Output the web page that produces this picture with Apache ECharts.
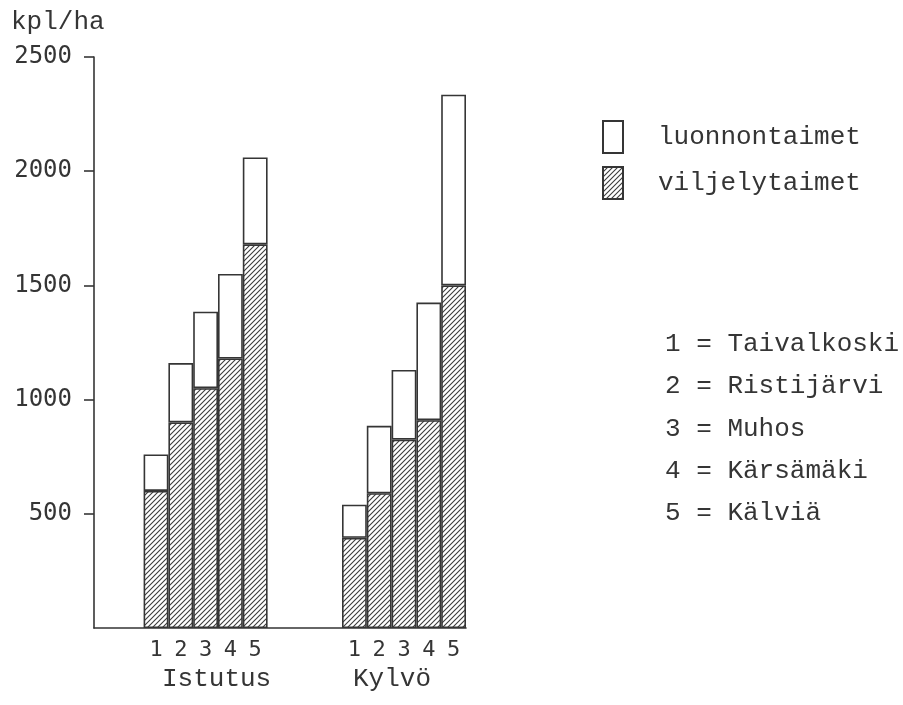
<!DOCTYPE html>
<html>
<head>
<meta charset="utf-8">
<script src="https://cdn.jsdelivr.net/npm/echarts@6/dist/echarts.min.js"></script>
<style>html,body{margin:0;padding:0;background:#fff;}#c{width:903px;height:705px;}</style>
</head>
<body>
<div id="c"></div>
<script>
// Data
const groups = ['Istutus', 'Kylvö'];
const siteNumbers = ['1', '2', '3', '4', '5'];
const istutusTotal   = [760, 1160, 1385, 1550, 2060];
const istutusViljely = [600, 900, 1050, 1180, 1680];
const kylvoTotal     = [540, 885, 1130, 1425, 2335];
const kylvoViljely   = [395, 590, 825, 910, 1500];
const yTicks = [500, 1000, 1500, 2000, 2500];
const seriesNames = ['luonnontaimet', 'viljelytaimet'];
const siteNames = ['1 = Taivalkoski', '2 = Ristijärvi', '3 = Muhos', '4 = Kärsämäki', '5 = Kälviä'];

// Build 15-slot category layout: 2 empty, 5 bars, 3 empty, 5 bars
const pad = (n) => Array(n).fill(null);
const cats = ['', ''].concat(siteNumbers, ['', '', ''], siteNumbers);
const groupCats = cats.map(() => '');
groupCats[4] = groups[0];
groupCats[12] = groups[1];
const viljely = pad(2).concat(istutusViljely, pad(3), kylvoViljely);
const luonnon = pad(2).concat(
  istutusTotal.map((t, i) => t - istutusViljely[i]), pad(3),
  kylvoTotal.map((t, i) => t - kylvoViljely[i]));

// hatch pattern
const cv = document.createElement('canvas');
cv.width = 5; cv.height = 5;
const g = cv.getContext('2d');
g.fillStyle = '#fff'; g.fillRect(0, 0, 5, 5);
g.strokeStyle = '#3c3c3c'; g.lineWidth = 1.1;
g.beginPath();
g.moveTo(0, 5); g.lineTo(5, 0);
g.moveTo(-1, 1); g.lineTo(1, -1);
g.moveTo(4, 6); g.lineTo(6, 4);
g.stroke();

const mono = '"Liberation Mono", "DejaVu Sans Mono", monospace';
const numFont = '"DejaVu Sans Mono", monospace';
const ink = '#353535';

const chart = echarts.init(document.getElementById('c'), null, {renderer: 'canvas'});
chart.setOption({
  backgroundColor: '#fff',
  animation: false,
  title: [
    {text: 'kpl/ha', left: 6, top: 4, textStyle: {fontFamily: mono, fontSize: 26, fontWeight: 'normal', color: ink}},
    {text: siteNames.join('\n'), left: 660, top: 318,
     textStyle: {fontFamily: mono, fontSize: 26, fontWeight: 'normal', color: ink, lineHeight: 42.3}}
  ],
  legend: {
    orient: 'vertical', left: 597, top: 115,
    icon: 'rect',
    itemWidth: 20, itemHeight: 32, itemGap: 12,
    data: seriesNames,
    textStyle: {fontFamily: mono, fontSize: 26, color: ink, padding: [0, 0, 0, 30]}
  },
  grid: {left: 94, right: 437, top: 57, bottom: 77},
  xAxis: [
    {
      type: 'category', data: cats, boundaryGap: true,
      axisLine: {show: true, lineStyle: {color: ink, width: 1.6}},
      axisTick: {show: false},
      axisLabel: {interval: 0, margin: 11, fontFamily: numFont, fontSize: 22, color: ink}
    },
    {
      type: 'category', data: groupCats, position: 'bottom',
      axisLine: {show: false}, axisTick: {show: false},
      axisLabel: {
        interval: 0, margin: 38, color: ink,
        formatter: (v) => v === groups[0] ? '{a|' + v + '}' : (v ? '{b|' + v + '}' : ''),
        rich: {
          a: {fontFamily: mono, fontSize: 26, color: ink, padding: [0, 0, 0, 22]},
          b: {fontFamily: mono, fontSize: 26, color: ink, padding: [0, 24, 0, 0]}
        }
      }
    }
  ],
  yAxis: {
    type: 'value', min: 0, max: 2500, interval: 500,
    splitLine: {show: false},
    axisLine: {show: true, lineStyle: {color: ink, width: 1.6}},
    axisTick: {show: true, inside: false, length: 10, lineStyle: {color: ink, width: 1.6}, customValues: yTicks},
    axisLabel: {margin: 22, fontFamily: numFont, fontSize: 24, color: ink, customValues: yTicks,
                formatter: (v) => String(v)}
  },
  series: [
    {
      name: seriesNames[1], type: 'bar', stack: 's', data: viljely,
      barWidth: '100%', barCategoryGap: 0,
      itemStyle: {color: {image: cv, repeat: 'repeat'}, borderColor: ink, borderWidth: 1.6}
    },
    {
      name: seriesNames[0], type: 'bar', stack: 's', data: luonnon,
      barWidth: '100%', barCategoryGap: 0,
      itemStyle: {color: '#fff', borderColor: ink, borderWidth: 1.6}
    }
  ]
});
</script>
</body>
</html>
